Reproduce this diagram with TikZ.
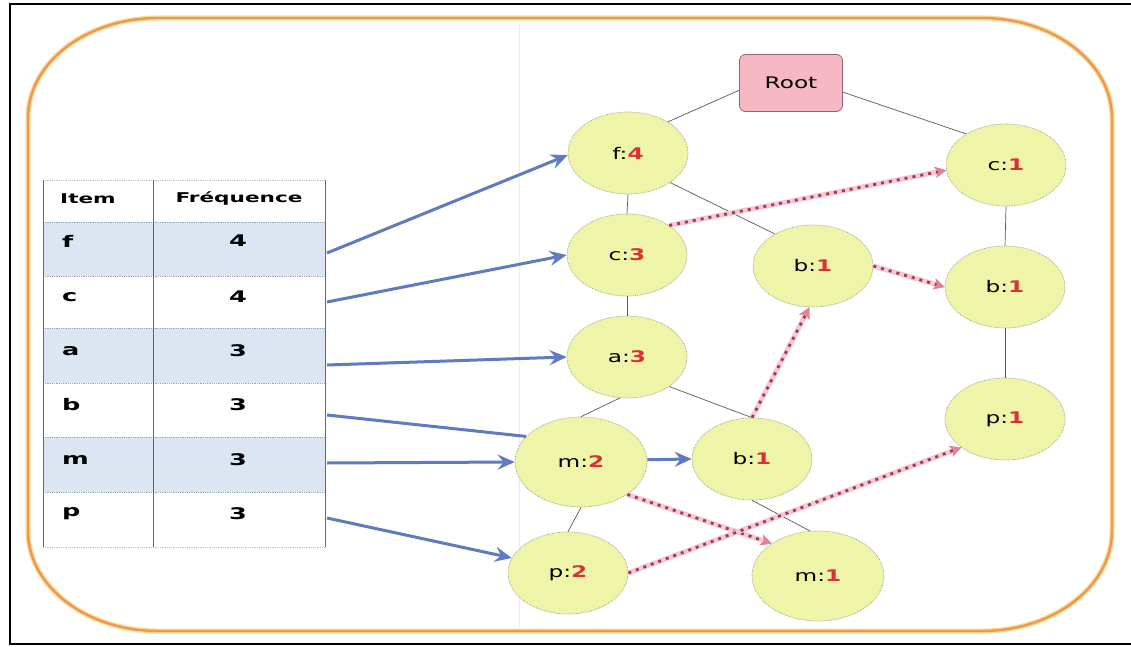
\documentclass[tikz,border=0pt]{standalone}
\usepackage{fontspec}
\usetikzlibrary{shapes.geometric,arrows.meta}
\newfontfamily\nodefont[FakeStretch=1.45]{DejaVu Sans}
\newfontfamily\tablefont[FakeStretch=1.6]{DejaVu Sans}

\definecolor{frameorange}{RGB}{238,150,90}
\definecolor{framehalo}{RGB}{250,220,140}
\definecolor{nodefill}{RGB}{238,244,168}
\definecolor{nodeedge}{RGB}{150,150,130}
\definecolor{rootfill}{RGB}{245,184,196}
\definecolor{rootedge}{RGB}{150,100,110}
\definecolor{rowblue}{RGB}{220,230,243}
\definecolor{gridline}{RGB}{150,165,190}
\definecolor{linkblue}{RGB}{95,122,192}
\definecolor{cntred}{RGB}{215,50,55}
\definecolor{dotred}{RGB}{170,55,80}
\definecolor{dothalo}{RGB}{245,200,212}
\definecolor{dottip}{RGB}{225,130,150}

\newcommand\redcnt[1]{\textcolor{cntred}{\bfseries #1}}

\begin{document}
\begin{tikzpicture}[x=1pt,y=-1pt,
  treenode/.style={ellipse, draw=nodeedge, densely dotted, line width=0.7pt,
    fill=nodefill, minimum width=120pt, minimum height=82pt, inner sep=0pt,
    font=\nodefont\fontsize{16}{19}\selectfont},
  bignode/.style={treenode, minimum width=132pt, minimum height=90pt},
  rootnode/.style={rectangle, rounded corners=6pt, draw=rootedge, line width=0.8pt,
    fill=rootfill, minimum width=103pt, minimum height=57pt, inner sep=0pt,
    font=\nodefont\fontsize{16}{19}\selectfont},
  treeedge/.style={draw=black!65, line width=0.7pt},
  headerlink/.style={draw=linkblue, line width=3pt,
    -{Stealth[length=17pt,width=15pt,inset=6pt]}},
  headerline/.style={draw=linkblue, line width=3pt},
  nodelink/.style={draw=dotred, line width=2.8pt, dash pattern=on 3pt off 5pt,
    preaction={draw=dothalo, line width=5pt, solid},
    -{Stealth[length=11pt,width=11pt,inset=3pt,color=dottip]}},
  cellhead/.style={font=\tablefont\bfseries\fontsize{13.5}{16}\selectfont, inner sep=0pt},
  cellitem/.style={font=\tablefont\bfseries\fontsize{16}{19}\selectfont, inner sep=0pt, anchor=west},
  cellnum/.style={font=\tablefont\bfseries\fontsize{16}{19}\selectfont, inner sep=0pt}
]
\useasboundingbox (0,0) rectangle (1131,647);
\fill[white] (0,0) rectangle (1131,647);

% scan frame
\draw[black, line width=2.2pt] (1135,4) -- (10,4) -- (10,644) -- (1135,644);
\draw[black!7, line width=0.8pt] (519,24) -- (519,628);

% rounded orange frame with elliptical corners
\def\framepath{(158,18) -- (982,18)
  arc[start angle=90, end angle=0, x radius=130pt, y radius=100pt]
  -- (1112,531)
  arc[start angle=0, end angle=-90, x radius=130pt, y radius=100pt]
  -- (158,631)
  arc[start angle=-90, end angle=-180, x radius=130pt, y radius=100pt]
  -- (28,118)
  arc[start angle=180, end angle=90, x radius=130pt, y radius=100pt] -- cycle}
\draw[framehalo, line width=5pt] \framepath;
\draw[frameorange, line width=2.4pt] \framepath;

% ---------- header table ----------
\fill[rowblue] (43,222) rectangle (325,276);
\fill[rowblue] (43,328) rectangle (325,383);
\fill[rowblue] (43,437) rectangle (325,492);
\foreach \yy in {222,276,328,383,437,492}
  \draw[gridline, densely dotted, line width=0.8pt] (43,\yy) -- (325,\yy);
\draw[gridline!70, densely dotted, line width=0.8pt] (43,180) -- (325,180);
\draw[gridline!70, densely dotted, line width=0.8pt] (43,547) -- (325,547);
\draw[black!60, line width=0.9pt] (43,180) -- (43,547);
\draw[black!60, line width=0.9pt] (153,180) -- (153,547);
\draw[black!60, line width=0.9pt] (325,180) -- (325,547);

\node[cellhead] (hitem) at (88,199) {Item};
\node[cellhead] (hfreq) at (239,199) {Fréquence};

\node[cellitem] (if) at (62,241) {f};
\node[cellitem] (ic) at (62,297) {c};
\node[cellitem] (ia) at (62,351) {a};
\node[cellitem] (ib) at (62,405) {b};
\node[cellitem] (im) at (62,460) {m};
\node[cellitem] (ip) at (62,514) {p};

\node[cellnum] (nf) at (238,241) {4};
\node[cellnum] (nc) at (238,297) {4};
\node[cellnum] (na) at (238,351) {3};
\node[cellnum] (nb) at (238,405) {3};
\node[cellnum] (nm) at (238,460) {3};
\node[cellnum] (np) at (238,514) {3};

\coordinate (lf) at (327,253);
\coordinate (lc) at (327,302);
\coordinate (la) at (327,365);
\coordinate (lb) at (327,415);
\coordinate (lm) at (327,463);
\coordinate (lp) at (327,518);

% ---------- FP-tree ----------
\node[rootnode] (root) at (791,83) {Root};

\node[treenode] (f4) at (628,153) {f:\redcnt{4}};
\node[treenode] (c3) at (627,255) {c:\redcnt{3}};
\node[treenode] (a3) at (627,357) {a:\redcnt{3}};
\node[bignode]  (m2) at (581,462) {m:\redcnt{2}};
\node[treenode] (p2) at (568,573) {p:\redcnt{2}};
\node[treenode] (b1u) at (813,266) {b:\redcnt{1}};
\node[treenode] (b1m) at (752,459) {b:\redcnt{1}};
\node[bignode]  (m1) at (818,576) {m:\redcnt{1}};
\node[treenode] (c1) at (1006,165) {c:\redcnt{1}};
\node[treenode] (b1r) at (1005,287) {b:\redcnt{1}};
\node[treenode] (p1) at (1005,419) {p:\redcnt{1}};

% parent-child edges
\draw[treeedge] (root.-172) -- (f4.38);
\draw[treeedge] (root.-10) -- (c1.142);
\draw[treeedge] (f4.south) -- (c3.north);
\draw[treeedge] (f4.-35) -- (b1u.140);
\draw[treeedge] (c3.south) -- (a3.north);
\draw[treeedge] (a3.260) -- (m2.north);
\draw[treeedge] (a3.-35) -- (b1m.north);
\draw[treeedge] (m2.south) -- (p2.north);
\draw[treeedge] (b1m.south) -- (m1.100);
\draw[treeedge] (c1.south) -- (b1r.north);
\draw[treeedge] (b1r.south) -- (p1.north);

% header links
\draw[headerlink] (lf) -- (f4.182);
\draw[headerlink] (lc) -- (c3.west);
\draw[headerlink] (la) -- (a3.west);
\draw[headerline] (lb) -- (m2.155);
\draw[headerlink] (lm) -- (m2.west);
\draw[headerlink] (lp) -- (p2.165);
\draw[headerlink] (m2.2) -- (b1m.west);

% node links
\draw[nodelink] (c3.35) -- (c1.185);
\draw[nodelink] (b1u.east) -- (b1r.west);
\draw[nodelink] (b1m.north) -- (b1u.265);
\draw[nodelink] (m2.-35) -- (m1.145);
\draw[nodelink] (p2.east) -- (p1.-147);
\end{tikzpicture}
\end{document}
